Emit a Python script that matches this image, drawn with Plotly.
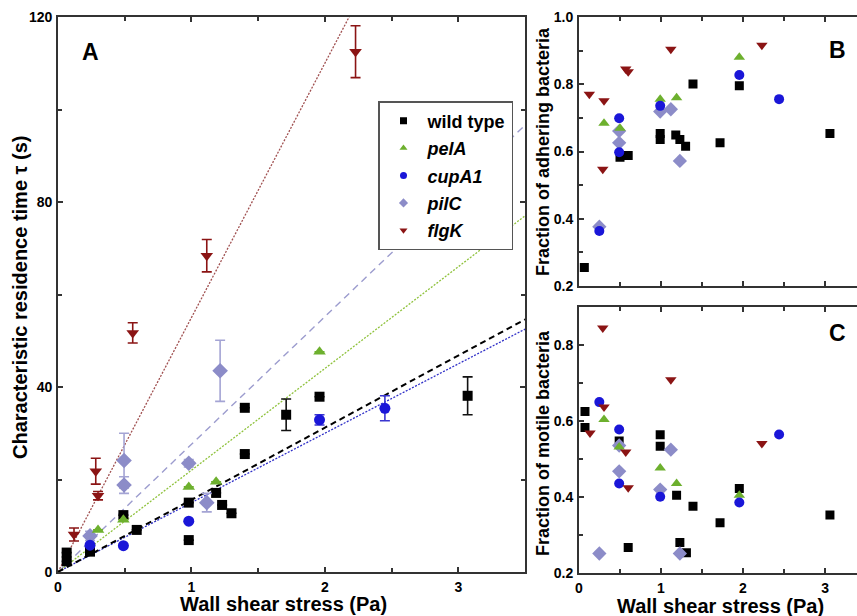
import plotly.graph_objects as go

W, H = 857, 616

# ---------------- Panel A: residence time vs wall shear stress ----------------
wt_x = [0.065, 0.065, 0.24, 0.49, 0.59, 0.98, 0.98, 1.185, 1.23, 1.30, 1.40, 1.40, 1.71, 1.96, 3.07]
wt_y = [4.2, 2.3, 4.4, 12.3, 9.1, 6.9, 15.0, 17.1, 14.5, 12.7, 35.5, 25.5, 34.0, 37.9, 38.1]
wt_e = [None, None, None, None, None, None, None, None, None, None, None, None, 3.4, None, 4.1]

pel_x = [0.30, 0.49, 0.98, 1.185, 1.96]
pel_y = [9.1, 11.3, 18.4, 19.5, 47.6]
pel_e = [None, None, None, None, None]

cup_x = [0.24, 0.49, 0.98, 1.96, 2.45]
cup_y = [5.8, 5.7, 11.0, 32.9, 35.4]
cup_e = [None, None, None, 1.1, 2.7]

pil_x = [0.24, 0.495, 0.495, 0.98, 1.115, 1.215]
pil_y = [7.8, 24.1, 18.8, 23.5, 15.0, 43.5]
pil_e = [1.0, 5.9, 1.8, 0.8, 2.0, 6.6]

flg_x = [0.12, 0.283, 0.30, 0.56, 1.115, 2.23]
flg_y = [8.1, 21.8, 16.5, 51.7, 68.4, 112.5]
flg_e = [1.4, 2.8, 0.9, 2.2, 3.5, 5.6]

# slopes of the linear fits through the origin (s/Pa)
fit_slope = {"wt": 15.6, "pel": 22.0, "cup": 15.0, "pil": 27.6, "flg": 55.0}
fit_x = [0, 3.5]

# ---------------- Panel B: fraction of adhering bacteria ----------------
b_wt_x = [0.065, 0.50, 0.60, 0.99, 0.99, 1.18, 1.23, 1.30, 1.39, 1.72, 1.955, 3.06]
b_wt_y = [0.254, 0.583, 0.588, 0.654, 0.636, 0.649, 0.636, 0.616, 0.801, 0.626, 0.796, 0.654]
b_pel_x = [0.305, 0.50, 0.99, 1.19, 1.955]
b_pel_y = [0.684, 0.669, 0.756, 0.760, 0.881]
b_cup_x = [0.248, 0.49, 0.49, 0.99, 1.955, 2.44]
b_cup_y = [0.363, 0.699, 0.598, 0.736, 0.828, 0.756]
b_pil_x = [0.248, 0.49, 0.49, 0.99, 1.12, 1.23]
b_pil_y = [0.376, 0.661, 0.626, 0.719, 0.726, 0.572]
b_flg_x = [0.126, 0.305, 0.29, 0.57, 0.60, 1.12, 2.23]
b_flg_y = [0.771, 0.751, 0.547, 0.846, 0.838, 0.905, 0.917]

# ---------------- Panel C: fraction of motile bacteria ----------------
c_wt_x = [0.073, 0.073, 0.49, 0.60, 0.99, 0.99, 1.19, 1.23, 1.31, 1.39, 1.72, 1.955, 3.06]
c_wt_y = [0.625, 0.583, 0.548, 0.268, 0.564, 0.534, 0.405, 0.281, 0.254, 0.376, 0.333, 0.423, 0.353]
c_pel_x = [0.305, 0.49, 0.99, 1.19, 1.955]
c_pel_y = [0.604, 0.532, 0.477, 0.436, 0.405]
c_cup_x = [0.248, 0.49, 0.49, 0.99, 1.955, 2.44]
c_cup_y = [0.650, 0.578, 0.436, 0.401, 0.386, 0.565]
c_pil_x = [0.248, 0.49, 0.49, 0.99, 1.12, 1.23]
c_pil_y = [0.252, 0.536, 0.468, 0.420, 0.525, 0.252]
c_flg_x = [0.134, 0.29, 0.305, 0.57, 0.60, 1.12, 2.23]
c_flg_y = [0.569, 0.845, 0.637, 0.519, 0.425, 0.709, 0.541]

legend_names = ["wild type", "<i>pelA</i>", "<i>cupA1</i>", "<i>pilC</i>", "<i>flgK</i>"]

# tick values / labels
x_ticks = [0, 1, 2, 3]
x_labels = ["0", "1", "2", "3"]
a_y_ticks = [0, 40, 80, 120]
a_y_labels = ["0", "40", "80", "120"]
b_y_ticks = [0.2, 0.4, 0.6, 0.8, 1.0]
b_y_labels = ["0.2", "0.4", "0.6", "0.8", "1.0"]
c_y_ticks = [0.2, 0.4, 0.6, 0.8]
c_y_labels = ["0.2", "0.4", "0.6", "0.8"]

# ---------------- styles ----------------
COL = {"wt": "#000000", "pel": "#6db02e", "cup": "#1a16d8", "pil": "#8c8cc8", "flg": "#8b1414"}
ERRCOL = {"wt": "#111111", "pel": "#6db02e", "cup": "#3a36d0", "pil": "#a4a4d4", "flg": "#8b1414"}
SYM = {"wt": "square", "pel": "triangle-up", "cup": "circle", "pil": "diamond", "flg": "triangle-down"}
SIZE = {"wt": 10, "pel": 11, "cup": 11, "pil": 12, "flg": 11}
FITCOL = {"wt": "#000000", "pel": "#8fc23c", "cup": "#3030c8", "pil": "#9c9cce", "flg": "#a05050"}
FITDASH = {"wt": "6px,4px", "pel": "2px,1.5px", "cup": "2px,1.5px", "pil": "7px,5px", "flg": "2px,1.5px"}
FITW = {"wt": 2.0, "pel": 1.3, "cup": 1.3, "pil": 1.4, "flg": 1.3}

FONT = "Liberation Sans, Arial, Helvetica, sans-serif"
AXC = "#333333"

fig = go.Figure()

# fit lines (panel A)
for k in ["pil", "flg", "pel", "cup", "wt"]:
    fig.add_trace(go.Scatter(
        x=fit_x, y=[fit_slope[k] * v for v in fit_x], mode="lines",
        line=dict(color=FITCOL[k], width=FITW[k], dash=FITDASH[k]),
        showlegend=False, hoverinfo="skip", xaxis="x", yaxis="y"))

panelA = {"wt": (wt_x, wt_y, wt_e), "pel": (pel_x, pel_y, pel_e), "cup": (cup_x, cup_y, cup_e),
          "pil": (pil_x, pil_y, pil_e), "flg": (flg_x, flg_y, flg_e)}
panelB = {"wt": (b_wt_x, b_wt_y), "pel": (b_pel_x, b_pel_y), "cup": (b_cup_x, b_cup_y),
          "pil": (b_pil_x, b_pil_y), "flg": (b_flg_x, b_flg_y)}
panelC = {"wt": (c_wt_x, c_wt_y), "pel": (c_pel_x, c_pel_y), "cup": (c_cup_x, c_cup_y),
          "pil": (c_pil_x, c_pil_y), "flg": (c_flg_x, c_flg_y)}

draw_order = ["wt", "pil", "pel", "cup", "flg"]
for k in draw_order:
    x, y, e = panelA[k]
    fig.add_trace(go.Scatter(
        x=x, y=y, mode="markers",
        marker=dict(symbol=SYM[k], size=SIZE[k], color=COL[k], line=dict(width=0)),
        error_y=dict(type="data", array=e, visible=True, color=ERRCOL[k], thickness=1.6, width=5),
        showlegend=False, xaxis="x", yaxis="y"))
for k in draw_order:
    x, y = panelB[k]
    fig.add_trace(go.Scatter(
        x=x, y=y, mode="markers",
        marker=dict(symbol=SYM[k], size=SIZE[k] - 1, color=COL[k], line=dict(width=0)),
        showlegend=False, xaxis="x2", yaxis="y2"))
for k in draw_order:
    x, y = panelC[k]
    fig.add_trace(go.Scatter(
        x=x, y=y, mode="markers",
        marker=dict(symbol=SYM[k], size=SIZE[k] - 1, color=COL[k], line=dict(width=0)),
        showlegend=False, xaxis="x3", yaxis="y3"))

# legend entries
for k, name in zip(["wt", "pel", "cup", "pil", "flg"], legend_names):
    fig.add_trace(go.Scatter(
        x=[None], y=[None], mode="markers", name=name, legendgroup=k,
        marker=dict(symbol=SYM[k], size=7, color=COL[k], line=dict(width=0)),
        xaxis="x", yaxis="y"))

tickfont = dict(family=FONT, size=14, color="#000", weight="bold")


def ax(domain, rng, tickvals, ticklabels, minor, anchor, labels=True, mirror="ticks"):
    d = dict(domain=domain, range=rng, tickmode="array", tickvals=tickvals,
             ticktext=["<b>%s</b>" % t for t in ticklabels],
             ticks="inside", ticklen=5, automargin=False,
             tickwidth=1.5, tickcolor=AXC, showline=True, linecolor=AXC, linewidth=1.8,
             mirror=mirror, showgrid=False, zeroline=False, anchor=anchor,
             showticklabels=labels, tickfont=tickfont, ticklabelstandoff=1,
             minor=dict(dtick=minor, tick0=0, ticks="inside", ticklen=4, tickwidth=1.5,
                        tickcolor=AXC, showgrid=False))
    return d


def px_x(p):
    return p / W


def px_y(p):
    return 1 - p / H


layout = dict(
    width=W, height=H, autosize=False,
    margin=dict(l=0, r=0, t=0, b=0, pad=0),
    paper_bgcolor="white", plot_bgcolor="white",
    xaxis=ax([px_x(58), px_x(525)], [0, 3.5], x_ticks, x_labels, 0.5, "y"),
    yaxis=ax([px_y(572), px_y(17)], [0, 120], a_y_ticks, a_y_labels, 20, "x"),
    xaxis2=ax([px_x(579), 1.0], [0, 3.39], x_ticks, x_labels, 0.5, "y2", labels=False),
    yaxis2=ax([px_y(285.7), px_y(17.3)], [0.2, 1.0], b_y_ticks, b_y_labels, 0.1, "x2", mirror=False),
    xaxis3=ax([px_x(579), 1.0], [0, 3.39], x_ticks, x_labels, 0.5, "y3"),
    yaxis3=ax([px_y(573.3), px_y(307)], [0.2, 0.9], c_y_ticks, c_y_labels, 0.1, "x3", mirror=False),
    showlegend=True,
    legend=dict(x=px_x(378), y=px_y(101), xanchor="left", yanchor="top",
                bgcolor="white", bordercolor="#555", borderwidth=1.5,
                font=dict(family=FONT, size=18, color="#000", weight="bold"),
                itemwidth=38, tracegroupgap=1),
)
fig.update_layout(**layout)

ann = []


def text(t, x, y, size, angle=0):
    ann.append(dict(text="<b>%s</b>" % t, x=px_x(x), y=px_y(y), xref="paper", yref="paper",
                    xanchor="center", yanchor="middle", showarrow=False, textangle=angle,
                    font=dict(family=FONT, size=size, color="#000")))


text("Characteristic residence time τ (s)", 20, 297, 20, -90)
text("Wall shear stress (Pa)", 283, 604, 20)
text("Wall shear stress (Pa)", 720, 605.5, 20)
text("Fraction of adhering bacteria", 543, 152, 18, -90)
text("Fraction of motile bacteria", 543, 443, 18, -90)
text("A", 90, 52, 23)
text("B", 837, 50, 23)
text("C", 837, 333, 23)
fig.update_layout(annotations=ann)

fig.write_html("out.html", config={"displayModeBar": False},
               post_script="document.body.style.margin='0';document.body.style.overflow='hidden';")
